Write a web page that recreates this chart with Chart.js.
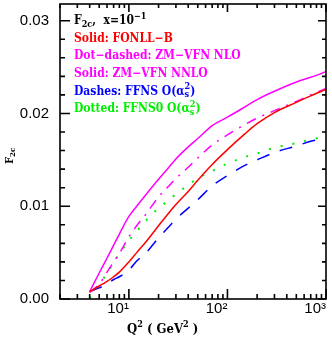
<!DOCTYPE html>
<html>
<head>
<meta charset="utf-8">
<script src="https://cdn.jsdelivr.net/npm/chart.js@4.4.0/dist/chart.umd.min.js"></script>
<style>
  body { margin: 0; background: #fff; }
  canvas { display: block; }
</style>
</head>
<body>
<canvas id="chart" width="332" height="339"></canvas>
<script>
// Q^2 grid (GeV^2) shared by all curves
var q2 = [4, 5, 6, 7, 8, 10, 12, 15, 20, 25, 30, 40, 50, 70, 100, 150, 200, 300, 500, 700, 1000];

// F2c values
var fonllB = [0.0008, 0.0014, 0.0019, 0.0024, 0.0029, 0.0040, 0.0050, 0.0062, 0.0079, 0.0092, 0.0102, 0.0116, 0.0128, 0.0145, 0.0161, 0.0178, 0.0189, 0.0201, 0.0212, 0.0219, 0.0226];
var zmNlo  = [0.0007, 0.0016, 0.0029, 0.0040, 0.0049, 0.0067, 0.0079, 0.0092, 0.0110, 0.0121, 0.0130, 0.0142, 0.0152, 0.0166, 0.0177, 0.0188, 0.0195, 0.0203, 0.0213, 0.0220, 0.0227];
var zmNnlo = [0.0008, 0.0028, 0.0044, 0.0058, 0.0070, 0.0089, 0.0100, 0.0113, 0.0129, 0.0141, 0.0151, 0.0164, 0.0173, 0.0187, 0.0196, 0.0207, 0.0215, 0.0224, 0.0234, 0.0239, 0.0245];
var ffns   = [0.0008, 0.0012, 0.0016, 0.0021, 0.0024, 0.0031, 0.0041, 0.0050, 0.0066, 0.0077, 0.0086, 0.0098, 0.0107, 0.0122, 0.0133, 0.0144, 0.0150, 0.0158, 0.0165, 0.0170, 0.0174];
var ffns0  = [0.0001, 0.0015, 0.0028, 0.0039, 0.0049, 0.0063, 0.0073, 0.0085, 0.0098, 0.0106, 0.0113, 0.0123, 0.0130, 0.0138, 0.0146, 0.0153, 0.0157, 0.0163, 0.0168, 0.0172, 0.0175];

// axis ticks
var xMajor = [10, 100, 1000];
var xLabels = ["10\u00b9", "10\u00b2", "10\u00b3"];
var xMinor = [2, 3, 4, 5, 6, 7, 8, 9, 20, 30, 40, 50, 60, 70, 80, 90, 200, 300, 400, 500, 600, 700, 800, 900];
var yMajor = [0, 0.01, 0.02, 0.03];
var yMinor = [0.002, 0.004, 0.006, 0.008, 0.012, 0.014, 0.016, 0.018, 0.022, 0.024, 0.026, 0.028];

var legendColors = ["#000000", "#ff0000", "#ff00ff", "#ff00ff", "#0000ff", "#00ee00"];
var legendLines = [
  [{t: "F"}, {t: "2c", sub: true}, {t: ",  x=10"}, {t: "\u22121", sup: true}],
  [{t: "Solid: FONLL\u2212B"}],
  [{t: "Dot\u2212dashed: ZM\u2212VFN NLO"}],
  [{t: "Solid: ZM\u2212VFN NNLO"}],
  [{t: "Dashes: FFNS O(\u03b1"}, {t: "s", sub: true, stay: true}, {t: "2", sup: true}, {t: ")"}],
  [{t: "Dotted: FFNS0 O(\u03b1"}, {t: "s", sub: true, stay: true}, {t: "2", sup: true}, {t: ")"}]
];
var xTitle = [{t: "Q"}, {t: "2", sup: true}, {t: " ( GeV"}, {t: "2", sup: true}, {t: " )"}];
var yTitle = [{t: "F"}, {t: "2c", sub: true}];

function points(ys) {
  return q2.map(function(q, i) { return { x: q, y: ys[i] }; });
}

function drawRich(ctx, x, y, parts, size, family) {
  parts.forEach(function(p) {
    var small = p.sub || p.sup;
    var s = small ? Math.round(size * 0.72) : size;
    ctx.font = "bold " + s + "px " + family;
    var dy = p.sub ? size * 0.3 : (p.sup ? -size * 0.38 : 0);
    ctx.fillText(p.t, x, y + dy);
    if (!p.stay) x += ctx.measureText(p.t).width;
  });
}

var framePlugin = {
  id: "frame",
  afterDraw: function(chart) {
    var ctx = chart.ctx;
    var a = chart.chartArea;
    var xs = chart.scales.x, ys = chart.scales.y;
    ctx.save();
    ctx.strokeStyle = "#000";
    ctx.lineWidth = 1.6;
    ctx.strokeRect(a.left, a.top, a.right - a.left, a.bottom - a.top);

    ctx.beginPath();
    yMajor.forEach(function(v) {
      var p = ys.getPixelForValue(v);
      ctx.moveTo(a.left, p); ctx.lineTo(a.left + 10, p);
      ctx.moveTo(a.right, p); ctx.lineTo(a.right - 8, p);
    });
    yMinor.forEach(function(v) {
      var p = ys.getPixelForValue(v);
      ctx.moveTo(a.left, p); ctx.lineTo(a.left + 5, p);
      ctx.moveTo(a.right, p); ctx.lineTo(a.right - 4, p);
    });
    xMajor.forEach(function(v) {
      var p = xs.getPixelForValue(v);
      ctx.moveTo(p, a.bottom); ctx.lineTo(p, a.bottom - 10);
      ctx.moveTo(p, a.top); ctx.lineTo(p, a.top + 8);
    });
    xMinor.forEach(function(v) {
      var p = xs.getPixelForValue(v);
      ctx.moveTo(p, a.bottom); ctx.lineTo(p, a.bottom - 5);
      ctx.moveTo(p, a.top); ctx.lineTo(p, a.top + 4);
    });
    ctx.stroke();

    // legend text block
    ctx.textBaseline = "middle";
    ctx.textAlign = "left";
    var family = "'DejaVu Serif Condensed', 'DejaVu Serif', serif";
    legendLines.forEach(function(parts, i) {
      ctx.fillStyle = legendColors[i];
      drawRich(ctx, a.left + 14, 21 + i * 17.6, parts, 12, family);
    });

    // x axis title
    ctx.fillStyle = "#000";
    drawRich(ctx, 127, 330, xTitle, 13, family);

    // y axis title, rotated
    ctx.translate(10, 154);
    ctx.rotate(-Math.PI / 2);
    drawRich(ctx, -10, 0, yTitle, 11, family);
    ctx.restore();
  }
};

new Chart(document.getElementById("chart"), {
  type: "line",
  data: {
    datasets: [
      { label: "FONLL-B", data: points(fonllB), borderColor: "#ff0000", borderWidth: 1.5 },
      { label: "ZM-VFN NLO", data: points(zmNlo), borderColor: "#ff00ff", borderWidth: 1.5, borderDash: [10, 7, 2, 7] },
      { label: "ZM-VFN NNLO", data: points(zmNnlo), borderColor: "#ff00ff", borderWidth: 1.5 },
      { label: "FFNS O(as^2)", data: points(ffns), borderColor: "#0000ff", borderWidth: 1.5, borderDash: [13, 11] },
      { label: "FFNS0 O(as^2)", data: points(ffns0), borderColor: "#00ee00", borderWidth: 2, borderDash: [2, 10] }
    ]
  },
  options: {
    responsive: false,
    animation: false,
    layout: { padding: { left: 0, right: 6, top: 4, bottom: 0 } },
    elements: {
      point: { radius: 0 },
      line: { cubicInterpolationMode: "monotone", fill: false }
    },
    plugins: {
      legend: { display: false },
      tooltip: { enabled: false }
    },
    scales: {
      x: {
        type: "logarithmic",
        min: 2,
        max: 1000,
        grid: { display: false, drawTicks: false },
        border: { display: false },
        afterFit: function(scale) {
          scale.height = 40;
          scale.paddingLeft = 0;
          scale.paddingRight = 0;
        },
        afterBuildTicks: function(scale) {
          scale.ticks = xMajor.map(function(v) { return { value: v }; });
        },
        ticks: {
          autoSkip: false,
          maxRotation: 0,
          align: "end",
          padding: 1,
          color: "#000",
          font: { family: "'Liberation Sans', Arial, sans-serif", size: 15 },
          callback: function(value) {
            var i = xMajor.indexOf(value);
            return i >= 0 ? xLabels[i] : "";
          }
        }
      },
      y: {
        min: 0,
        max: 0.0318,
        grid: { display: false, drawTicks: false },
        border: { display: false },
        afterFit: function(scale) {
          scale.width = 60;
          scale.paddingTop = 0;
          scale.paddingBottom = 0;
        },
        afterBuildTicks: function(scale) {
          scale.ticks = yMajor.map(function(v) { return { value: v }; });
        },
        ticks: {
          padding: 11,
          color: "#000",
          font: { family: "'Liberation Sans', Arial, sans-serif", size: 15 },
          callback: function(value) { return value.toFixed(2); }
        }
      }
    }
  },
  plugins: [framePlugin]
});
</script>
</body>
</html>
